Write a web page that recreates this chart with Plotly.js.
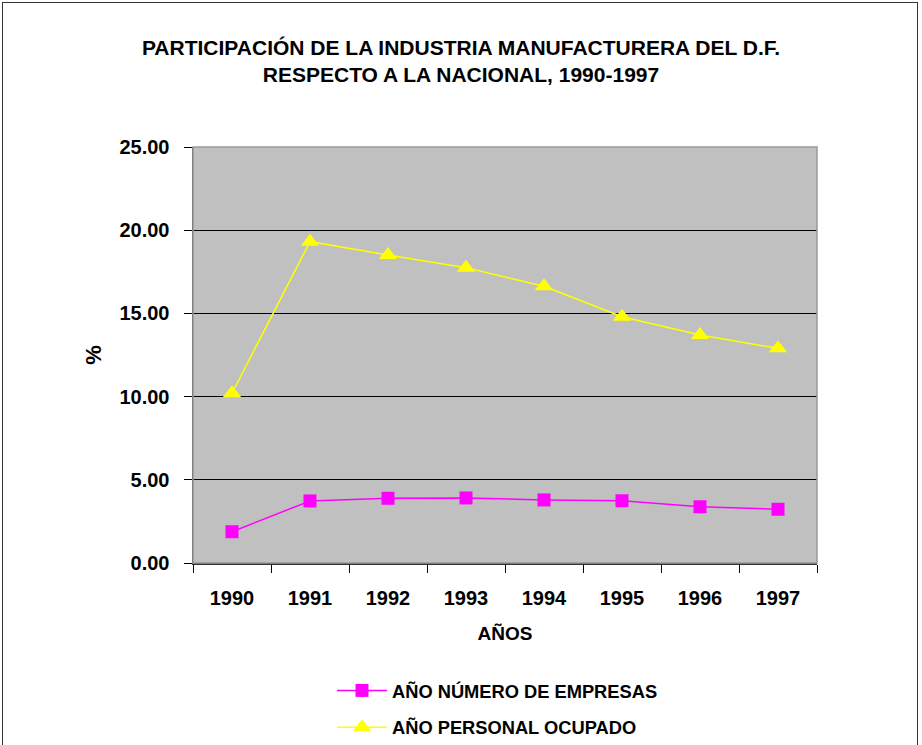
<!DOCTYPE html>
<html>
<head>
<meta charset="utf-8">
<script src="https://cdn.plot.ly/plotly-3.0.1.min.js"></script>
<style>
html,body{margin:0;padding:0;background:#fff;}
#wrap{position:relative;width:922px;height:745px;}
#chart{width:922px;height:745px;}
#frame{position:absolute;left:2px;top:2px;width:914px;height:760px;border:1px solid #333;pointer-events:none;}
</style>
</head>
<body>
<div id="wrap"><div id="chart"></div><div id="frame"></div></div>
<script>
const years = ['1990','1991','1992','1993','1994','1995','1996','1997'];
const empresas = [1.88, 3.73, 3.89, 3.91, 3.79, 3.74, 3.38, 3.23];
const personal = [10.20, 19.31, 18.51, 17.75, 16.63, 14.80, 13.70, 12.90];
const yTicks = [0, 5, 10, 15, 20, 25];
const yTickText = ['0.00', '5.00', '10.00', '15.00', '20.00', '25.00'];

const FONT = '"Liberation Sans", Arial, sans-serif';

const traces = [
  {
    x: years, y: empresas, type: 'scatter', mode: 'lines+markers',
    name: '<b>AÑO NÚMERO DE EMPRESAS</b>', legendgroup: 'a',
    line: {color: '#FF00FF', width: 1.5},
    marker: {symbol: 'square', size: 13, color: '#FF00FF'}
  },
  {
    x: years, y: personal, type: 'scatter', mode: 'lines+markers',
    name: '<b>AÑO PERSONAL OCUPADO</b>', legendgroup: 'b',
    line: {color: '#FFFF00', width: 1.5},
    marker: {symbol: 'triangle-up', size: 16, color: '#FFFF00'}
  }
];

const layout = {
  width: 922, height: 745,
  margin: {l: 193, r: 105, t: 147, b: 182, autoexpand: false},
  paper_bgcolor: '#FFFFFF',
  plot_bgcolor: '#C0C0C0',
  font: {family: FONT, color: '#000', size: 20},
  title: {
    text: '<b>PARTICIPACIÓN DE LA INDUSTRIA MANUFACTURERA DEL D.F.<br>RESPECTO A LA NACIONAL, 1990-1997</b>',
    font: {family: FONT, size: 21, color: '#000'},
    x: 0.5, xref: 'container', xanchor: 'center',
    y: 1 - 55/745, yref: 'container', yanchor: 'middle'
  },
  xaxis: {
    type: 'category', range: [-0.5, 7.5], automargin: false,
    tickson: 'boundaries', ticks: 'outside', ticklen: 8, tickcolor: '#000', tickwidth: 1,
    showline: true, linecolor: '#333', linewidth: 1.5,
    showgrid: false, zeroline: false,
    tickfont: {family: FONT, size: 20, color: '#000', weight: 'bold'},
    ticklabelstandoff: 16,
    title: {text: '<b>AÑOS</b>', font: {family: FONT, size: 19, color: '#000'}, standoff: 19},
    fixedrange: true
  },
  yaxis: {
    range: [0, 25], tickvals: yTicks, ticktext: yTickText, automargin: false,
    ticks: 'outside', ticklen: 8, tickcolor: '#000', tickwidth: 1,
    showline: true, linecolor: '#333', linewidth: 1.5,
    showgrid: true, gridcolor: '#000', gridwidth: 1,
    zeroline: false,
    tickfont: {family: FONT, size: 20, color: '#000', weight: 'bold'},
    ticklabelstandoff: 10,
    title: {text: '<b>%</b>', font: {family: FONT, size: 22, color: '#000'}, standoff: 11},
    fixedrange: true
  },
  shapes: [
    {type: 'rect', xref: 'paper', yref: 'paper', x0: 0, x1: 1, y0: 0, y1: 1,
     line: {color: '#999', width: 1.5}, fillcolor: 'rgba(0,0,0,0)', layer: 'above'}
  ],
  showlegend: true,
  legend: {
    x: (332 - 193) / 624, xanchor: 'left',
    y: (563 - 672) / 416, yanchor: 'top',
    font: {family: FONT, size: 18.3, color: '#000'},
    bgcolor: 'rgba(0,0,0,0)',
    itemwidth: 50,
    traceorder: 'grouped', tracegroupgap: 10
  }
};

Plotly.newPlot('chart', traces, layout, {displayModeBar: false, staticPlot: true});
</script>
</body>
</html>
